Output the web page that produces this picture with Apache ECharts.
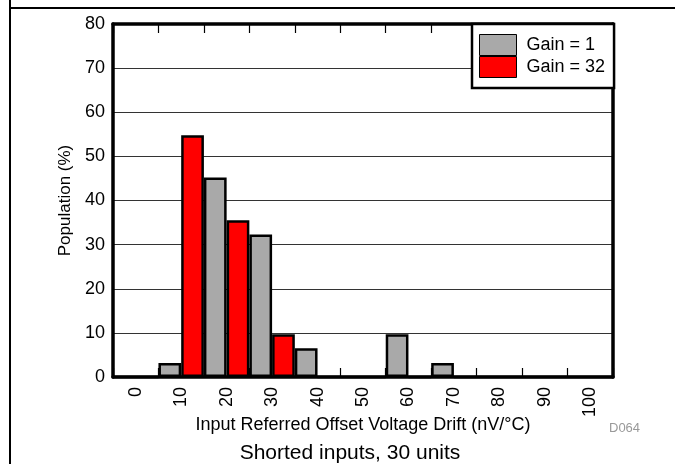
<!DOCTYPE html>
<html>
<head>
<meta charset="utf-8">
<script src="https://cdn.jsdelivr.net/npm/echarts@6/dist/echarts.min.js"></script>
<style>
html,body{margin:0;padding:0;background:#fff;}
#chart{width:675px;height:464px;}
</style>
</head>
<body>
<div id="chart"></div>
<script>
const categories = ['0','10','20','30','40','50','60','70','80','90','100'];
const gain1 = [0, 3.2, 45.2, 32.3, 6.5, 0, 9.7, 3.2, 0, 0, 0];
const gain32 = [0, 54.8, 35.5, 9.7, 0, 0, 0, 0, 0, 0, 0];
const yTicks = {min: 0, max: 80, interval: 10};
const seriesNames = ['Gain = 1', 'Gain = 32'];
const xAxisTitle = 'Input Referred Offset Voltage Drift (nV/\u00B0C)';
const yAxisTitle = 'Population (%)';
const footer = 'Shorted inputs, 30 units';
const figId = 'D064';

const chart = echarts.init(document.getElementById('chart'));
const font = 'Liberation Sans, Arial, sans-serif';
function tickStyle() {
  return {show: true, inside: true, length: 9, lineStyle: {color: '#000', width: 1.2}};
}
chart.setOption({
  animation: false,
  backgroundColor: '#fff',
  grid: {left: 113, right: 62, top: 24, bottom: 87, show: false},
  legend: {
    orient: 'vertical', left: 472, top: 24,
    itemWidth: 37, itemHeight: 21, itemGap: 0,
    padding: [10, 9, 10, 7],
    backgroundColor: '#fff', borderColor: '#000', borderWidth: 2.5,
    icon: 'rect',
    itemStyle: {borderColor: '#000', borderWidth: 1},
    textStyle: {fontFamily: font, fontSize: 18, color: '#000', padding: [0, 0, 0, 5]},
    data: seriesNames
  },
  xAxis: [{
    type: 'category', data: categories, position: 'bottom', gridIndex: 0,
    axisLine: {show: true, onZero: false, lineStyle: {color: '#000', width: 3.5}},
    axisTick: tickStyle(),
    axisLabel: {rotate: 90, margin: 10, fontFamily: font, fontSize: 18, color: '#000'}
  }, {
    type: 'category', data: categories, position: 'top', gridIndex: 0,
    axisLine: {show: true, onZero: false, lineStyle: {color: '#000', width: 3.5}},
    axisTick: tickStyle(),
    axisLabel: {show: false},
    splitLine: {show: false}
  }],
  yAxis: [{
    type: 'value', min: yTicks.min, max: yTicks.max, interval: yTicks.interval,
    axisLine: {show: true, onZero: false, lineStyle: {color: '#000', width: 3.5}},
    axisTick: {show: false},
    splitLine: {show: true, lineStyle: {color: '#333', width: 1}},
    axisLabel: {margin: 8, fontFamily: font, fontSize: 18, color: '#000'},
    name: yAxisTitle, nameLocation: 'middle', nameGap: 38,
    nameTextStyle: {fontFamily: font, fontSize: 17, color: '#000'}
  }, {
    type: 'value', min: yTicks.min, max: yTicks.max, interval: yTicks.interval, position: 'right',
    axisLine: {show: true, onZero: false, lineStyle: {color: '#000', width: 3.5}},
    axisTick: {show: false}, axisLabel: {show: false}, splitLine: {show: false}
  }],
  series: [{
    name: seriesNames[0], type: 'bar', data: gain1,
    barGap: '0%', barCategoryGap: '0%',
    itemStyle: {color: '#A9A9A9', borderColor: '#000', borderWidth: 2.5}
  }, {
    name: seriesNames[1], type: 'bar', data: gain32,
    barGap: '0%', barCategoryGap: '0%',
    itemStyle: {color: '#FF0000', borderColor: '#000', borderWidth: 2.5}
  }],
  graphic: [
    {type: 'line', shape: {x1: 10, y1: 0, x2: 10, y2: 464}, style: {stroke: '#000', lineWidth: 2}},
    {type: 'line', shape: {x1: 10, y1: 8, x2: 675, y2: 8}, style: {stroke: '#000', lineWidth: 2}},
    {type: 'text', x: 363, y: 425, style: {text: xAxisTitle, fontFamily: font, fontSize: 18, fill: '#000', textAlign: 'center', textVerticalAlign: 'middle'}},
    {type: 'text', x: 350, y: 453, style: {text: footer, fontFamily: font, fontSize: 21, fill: '#000', textAlign: 'center', textVerticalAlign: 'middle'}},
    {type: 'text', x: 609, y: 428, style: {text: figId, fontFamily: font, fontSize: 13, fill: '#999', textAlign: 'left', textVerticalAlign: 'middle'}}
  ]
});
</script>
</body>
</html>
